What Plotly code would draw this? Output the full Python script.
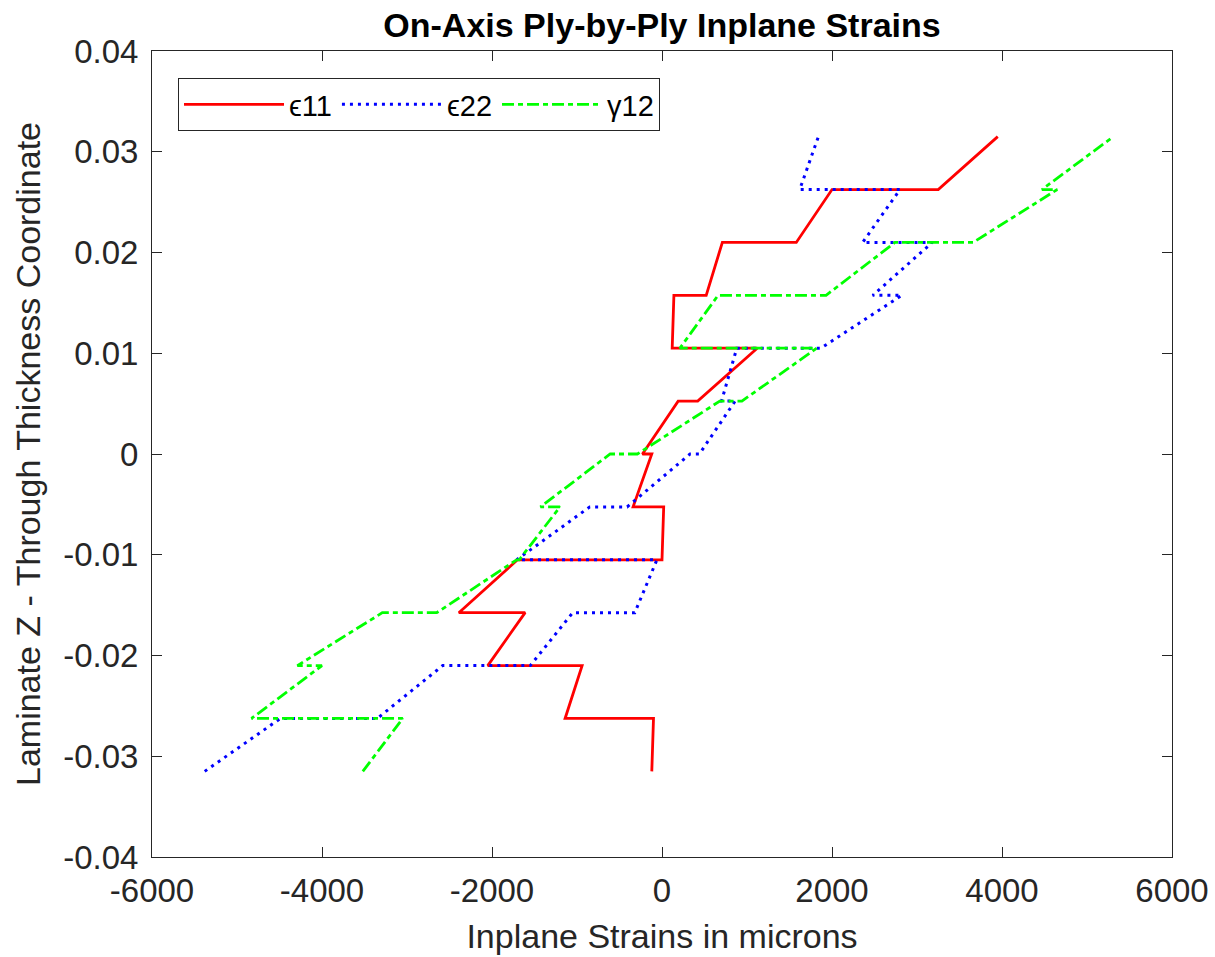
import plotly.graph_objects as go

# Through-thickness coordinate: each ply has a bottom and a top point
z_coord = [-0.0315, -0.02625, -0.02625, -0.021, -0.021, -0.01575, -0.01575, -0.0105,
           -0.0105, -0.00525, -0.00525, 0.0, 0.0, 0.00525, 0.00525, 0.0105,
           0.0105, 0.01575, 0.01575, 0.021, 0.021, 0.02625, 0.02625, 0.0315]

eps11 = [-120, -100, -1140, -940, -2050, -1610, -2390, -1700,
         0, 20, -340, -120, -230, 190, 420, 1120,
         120, 140, 520, 710, 1580, 2000, 3250, 3950]

eps22 = [-5380, -4490, -3350, -2580, -1550, -1050, -320, -60,
         -1710, -850, -410, 330, 440, 860, 700, 880,
         1870, 2820, 2480, 3180, 2360, 2800, 1620, 1840]

gam12 = [-3520, -3050, -4830, -4000, -4290, -3290, -2650, -1710,
         -1680, -1200, -1430, -610, -290, 680, 940, 1820,
         210, 660, 1930, 2740, 3660, 4650, 4470, 5310]

series_names = ["\u03f511", "\u03f522", "\u03b312"]

x_ticks = [-6000, -4000, -2000, 0, 2000, 4000, 6000]
x_ticktext = ["-6000", "-4000", "-2000", "0", "2000", "4000", "6000"]
y_ticks = [-0.04, -0.03, -0.02, -0.01, 0, 0.01, 0.02, 0.03, 0.04]
y_ticktext = ["-0.04", "-0.03", "-0.02", "-0.01", "0", "0.01", "0.02", "0.03", "0.04"]

AX = "#262626"
FONT = "Liberation Sans, Arial, sans-serif"

fig = go.Figure()
fig.add_trace(go.Scatter(x=eps11, y=z_coord, mode="lines", name=series_names[0],
                         line=dict(color="#ff0000", width=2.8)))
fig.add_trace(go.Scatter(x=eps22, y=z_coord, mode="lines", name=series_names[1],
                         line=dict(color="#0000ff", width=3, dash="3px,5px")))
fig.add_trace(go.Scatter(x=gam12, y=z_coord, mode="lines", name=series_names[2],
                         line=dict(color="#00ff00", width=2.8, dash="12px,4px,5px,4px")))

axis_common = dict(
    showline=True, linecolor=AX, linewidth=1, mirror="ticks",
    ticks="inside", ticklen=10, tickcolor=AX, tickwidth=1,
    showgrid=False, zeroline=False, automargin=False,
    tickfont=dict(family=FONT, size=33, color=AX),
    title_font=dict(family=FONT, size=34, color=AX),
)

fig.update_layout(
    width=1215, height=957,
    paper_bgcolor="white", plot_bgcolor="white",
    margin=dict(l=152, r=43, t=51, b=100),
    title=dict(text="<b>On-Axis Ply-by-Ply Inplane Strains</b>",
               x=(152 + 510) / 1215, xanchor="center", y=1 - 25 / 957, yanchor="middle",
               font=dict(family=FONT, size=34, color="black")),
    xaxis=dict(range=[-6000, 6000], tickvals=x_ticks, ticktext=x_ticktext,
               title=dict(text="Inplane Strains in microns", standoff=16),
               ticklabelstandoff=4, **axis_common),
    yaxis=dict(range=[-0.04, 0.04], tickvals=y_ticks, ticktext=y_ticktext,
               title=dict(text="Laminate Z - Through Thickness Coordinate", standoff=12),
               ticklabelstandoff=6, **axis_common),
    legend=dict(orientation="h", x=0.0255, y=0.9665, xanchor="left", yanchor="top",
                bgcolor="white", bordercolor=AX, borderwidth=1,
                font=dict(family=FONT, size=29, color="black"),
                itemwidth=100, tracegroupgap=0),
    showlegend=True,
)

fig.write_html("out.html")
